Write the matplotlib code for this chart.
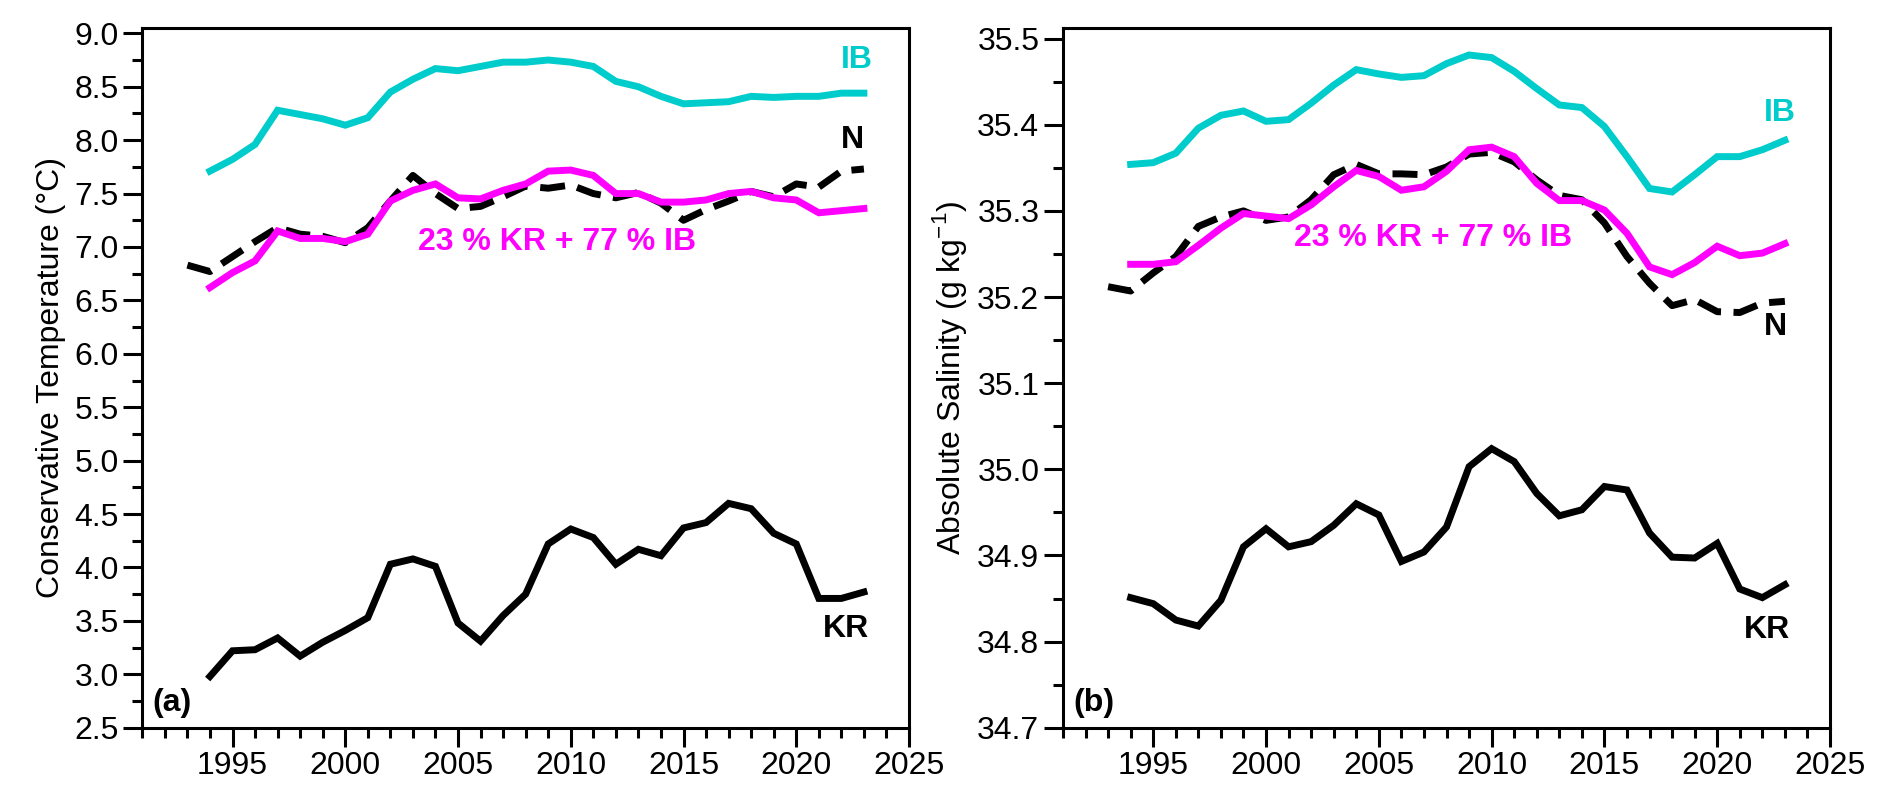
import matplotlib
matplotlib.use("Agg")
import matplotlib.pyplot as plt
from matplotlib.ticker import MultipleLocator, FormatStrFormatter

plt.rcParams['font.family'] = ['Liberation Sans', 'DejaVu Sans']
plt.rcParams['mathtext.fontset'] = 'custom'
plt.rcParams['mathtext.rm'] = 'Liberation Sans'

# years of the KR / IB / mixture series, N starts one year earlier
years = list(range(1994, 2024))
n_years = list(range(1993, 2024))

# conservative temperature (°C)
temp_ib = [7.71, 7.82, 7.96, 8.28, 8.24, 8.20, 8.14, 8.21, 8.45, 8.57,
           8.67, 8.65, 8.69, 8.73, 8.73, 8.75, 8.73, 8.69, 8.55, 8.50,
           8.41, 8.34, 8.35, 8.36, 8.41, 8.40, 8.41, 8.41, 8.44, 8.44]
temp_kr = [2.98, 3.22, 3.23, 3.34, 3.17, 3.30, 3.41, 3.53, 4.03, 4.08,
           4.01, 3.48, 3.31, 3.55, 3.75, 4.22, 4.36, 4.28, 4.03, 4.17,
           4.11, 4.37, 4.42, 4.60, 4.55, 4.32, 4.22, 3.71, 3.71, 3.77]
temp_mix = [6.62, 6.76, 6.87, 7.15, 7.08, 7.08, 7.05, 7.12, 7.43, 7.53,
            7.59, 7.46, 7.45, 7.53, 7.59, 7.71, 7.72, 7.67, 7.50, 7.50,
            7.42, 7.42, 7.44, 7.50, 7.52, 7.46, 7.44, 7.32, 7.34, 7.36]
temp_n = [6.83, 6.77, 6.91, 7.05, 7.18, 7.12, 7.10, 7.04, 7.18, 7.43,
          7.67, 7.50, 7.36, 7.38, 7.47, 7.57, 7.55, 7.58, 7.50, 7.46,
          7.51, 7.41, 7.25, 7.35, 7.43, 7.52, 7.47, 7.59, 7.56, 7.71, 7.73]

# absolute salinity (g/kg)
sal_ib = [35.354, 35.356, 35.367, 35.396, 35.411, 35.416, 35.404, 35.406,
          35.425, 35.446, 35.464, 35.459, 35.455, 35.457, 35.471, 35.481,
          35.478, 35.462, 35.442, 35.423, 35.420, 35.398, 35.363, 35.326,
          35.322, 35.342, 35.363, 35.363, 35.371, 35.382]
sal_kr = [34.851, 34.844, 34.825, 34.818, 34.848, 34.910, 34.931, 34.910,
          34.916, 34.935, 34.960, 34.947, 34.893, 34.904, 34.933, 35.003,
          35.024, 35.009, 34.972, 34.946, 34.953, 34.980, 34.976, 34.926,
          34.898, 34.897, 34.914, 34.861, 34.851, 34.866]
sal_mix = [35.238, 35.238, 35.241, 35.260, 35.280, 35.297, 35.294, 35.291,
           35.307, 35.328, 35.347, 35.340, 35.324, 35.328, 35.346, 35.371,
           35.374, 35.363, 35.332, 35.312, 35.312, 35.301, 35.274, 35.235,
           35.226, 35.240, 35.259, 35.248, 35.251, 35.262]
sal_n = [35.212, 35.207, 35.228, 35.247, 35.282, 35.293, 35.300, 35.289,
         35.293, 35.313, 35.342, 35.354, 35.343, 35.343, 35.342, 35.351,
         35.366, 35.368, 35.357, 35.336, 35.318, 35.313, 35.286, 35.247,
         35.216, 35.190, 35.197, 35.183, 35.182, 35.193, 35.195]

CYAN = '#00CCCC'
MAGENTA = '#FF00FF'
LW = 5.0
FS = 23


def style_axes(ax, ymin, ymax, major, minor, fmt):
    ax.set_xlim(1991, 2025)
    ax.set_ylim(ymin, ymax)
    ax.xaxis.set_major_locator(MultipleLocator(5))
    ax.xaxis.set_minor_locator(MultipleLocator(1))
    ax.yaxis.set_major_locator(MultipleLocator(major))
    ax.yaxis.set_minor_locator(MultipleLocator(minor))
    ax.yaxis.set_major_formatter(FormatStrFormatter(fmt))
    ax.tick_params(which='major', length=14, width=2.2, labelsize=FS, pad=3)
    ax.tick_params(which='minor', length=7.5, width=2.2)
    ax.tick_params(top=False, right=False)
    for sp in ax.spines.values():
        sp.set_linewidth(2.2)


def draw_panel(ax, ib, kr, mix, n):
    ax.plot(years, ib, color=CYAN, lw=LW, solid_joinstyle='miter')
    ax.plot(years, kr, color='black', lw=LW, solid_joinstyle='miter')
    ax.plot(n_years, n, color='black', lw=LW, ls=(0, (3.6, 1.8)),
            dash_capstyle='butt')
    ax.plot(years, mix, color=MAGENTA, lw=LW, solid_joinstyle='miter')


fig = plt.figure(figsize=(18.92, 7.95), dpi=100)
ax1 = fig.add_axes([142.3 / 1892, 67.3 / 795, (909 - 142.3) / 1892, 699.4 / 795])
ax2 = fig.add_axes([1063 / 1892, 67.3 / 795, (1830 - 1063) / 1892, 699.4 / 795])

# (a) temperature
draw_panel(ax1, temp_ib, temp_kr, temp_mix, temp_n)
style_axes(ax1, 2.5, 9.047, 0.5, 0.25, '%.1f')
ax1.set_ylabel('Conservative Temperature (°C)', fontsize=FS, labelpad=6)
ax1.text(2022.7, 8.75, 'IB', color=CYAN, fontsize=FS, fontweight='bold',
         ha='center', va='center')
ax1.text(2022.5, 8.0, 'N', color='black', fontsize=FS, fontweight='bold',
         ha='center', va='center')
ax1.text(2022.2, 3.42, 'KR', color='black', fontsize=FS, fontweight='bold',
         ha='center', va='center')
ax1.text(2009.4, 7.05, '23 % KR + 77 % IB', color=MAGENTA, fontsize=FS,
         fontweight='bold', ha='center', va='center')
ax1.text(0.013, 0.014, '(a)', transform=ax1.transAxes, fontsize=FS,
         fontweight='bold', ha='left', va='bottom')

# (b) salinity
draw_panel(ax2, sal_ib, sal_kr, sal_mix, sal_n)
style_axes(ax2, 34.7, 35.512, 0.1, 0.05, '%.1f')
ax2.set_ylabel('Absolute Salinity (g kg$^{\\mathregular{-1}}$)', fontsize=FS,
               labelpad=6)
ax2.text(2022.8, 35.414, 'IB', color=CYAN, fontsize=FS, fontweight='bold',
         ha='center', va='center')
ax2.text(2022.6, 35.165, 'N', color='black', fontsize=FS, fontweight='bold',
         ha='center', va='center')
ax2.text(2022.2, 34.813, 'KR', color='black', fontsize=FS, fontweight='bold',
         ha='center', va='center')
ax2.text(2007.4, 35.268, '23 % KR + 77 % IB', color=MAGENTA, fontsize=FS,
         fontweight='bold', ha='center', va='center')
ax2.text(0.013, 0.014, '(b)', transform=ax2.transAxes, fontsize=FS,
         fontweight='bold', ha='left', va='bottom')

fig.savefig('out.png', dpi=100)
